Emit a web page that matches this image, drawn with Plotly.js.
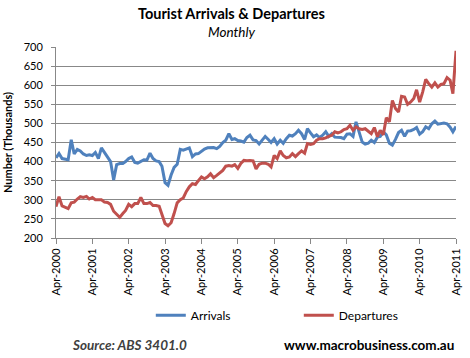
<!DOCTYPE html>
<html>
<head>
<meta charset="utf-8">
<script src="https://cdn.plot.ly/plotly-3.0.1.min.js"></script>
<style>html,body{margin:0;padding:0;background:#fff;}#chart{width:470px;height:358px;}</style>
</head>
<body>
<div id="chart"></div>
<script>
// Monthly series, Apr-2000 to Apr-2011 (thousands)
var startYear = 2000, startMonth = 4;
var arrivals = [
410,421,408,407,405,457,420,432,428,420,416,418,
416,424,408,436,424,414,400,352,392,395,395,400,
408,412,398,396,400,405,404,422,408,402,400,388,
345,338,365,385,393,432,430,434,436,413,420,421,
428,433,436,437,437,434,440,450,456,473,458,460,
455,454,451,463,469,457,455,446,456,466,458,450,
460,446,456,448,460,469,467,473,482,473,458,486,
475,465,470,463,469,478,466,473,464,463,463,460,
472,473,466,504,480,451,446,448,456,450,464,466,
478,470,448,443,458,476,482,466,480,481,484,489,
472,478,491,486,499,506,498,500,501,499,490,478,
492];
var departures = [
282,308,284,281,277,292,294,302,308,306,309,302,
306,300,300,300,294,293,288,270,262,254,264,272,
288,282,290,290,306,290,290,293,285,285,283,262,
238,232,240,264,292,300,305,322,334,342,340,350,
360,355,360,368,358,364,370,377,388,390,388,392,
382,395,403,402,403,402,381,393,396,396,393,386,
416,408,428,416,410,412,421,413,421,428,422,447,
445,447,456,460,460,462,466,469,478,475,478,484,
486,495,482,491,486,484,486,478,473,489,465,482,
470,515,504,560,539,530,571,569,550,556,565,588,
556,582,615,604,595,606,595,602,604,620,613,578,
690];
var seriesNames = ["Arrivals", "Departures"];
var chartTitle = "Tourist Arrivals & Departures";
var chartSubtitle = "Monthly";
var yTitle = "Number (Thousands)";
var sourceText = "Source: ABS 3401.0";
var siteText = "www.macrobusiness.com.au";

function monthDates(n) {
  var out = [];
  for (var i = 0; i < n; i++) {
    var m0 = startMonth - 1 + i;
    var y = startYear + Math.floor(m0 / 12);
    var m = (m0 % 12) + 1;
    out.push(y + "-" + (m < 10 ? "0" + m : m) + "-01");
  }
  return out;
}
var dates = monthDates(arrivals.length);

var FONT = "Lato, 'Liberation Sans', sans-serif";
var grid = "#888888";

var traces = [
  {x: dates, y: arrivals, name: seriesNames[0], type: "scatter", mode: "lines",
   line: {color: "#4F81BD", width: 3}},
  {x: dates, y: departures, name: seriesNames[1], type: "scatter", mode: "lines",
   line: {color: "#C0504D", width: 3}}
];

var layout = {
  width: 470, height: 358,
  margin: {l: 55.5, r: 14, t: 47, b: 120, pad: 0},
  paper_bgcolor: "#fff", plot_bgcolor: "#fff",
  font: {family: FONT, size: 11, color: "#000"},
  showlegend: true,
  legend: {orientation: "h", x: 0.607, xanchor: "center", y: -0.405, yanchor: "middle",
           font: {size: 12, color: "#000"}, itemwidth: 30, entrywidth: 103,
           entrywidthmode: "pixels", itemclick: false},
  xaxis: {type: "date", range: [dates[0], dates[dates.length - 1]],
          tick0: dates[0], dtick: "M12", tickformat: "%b-%Y", tickangle: -90,
          ticks: "outside", ticklen: 5, tickcolor: grid, showline: true, linecolor: grid,
          showgrid: false, zeroline: false, tickfont: {size: 11}},
  yaxis: {range: [200, 700], dtick: 50, tick0: 200, ticks: "outside", ticklen: 4,
          tickcolor: grid, showline: true, linecolor: grid, gridcolor: grid,
          zeroline: false, tickfont: {size: 11}, ticklabelstandoff: 6,
          title: {text: "<b>" + yTitle + "</b>", font: {size: 11}, standoff: 8}},
  annotations: [
    {text: "<b>" + chartTitle + "</b>", xref: "paper", yref: "paper", x: 0.438, y: 1,
     yanchor: "middle", yshift: 34, showarrow: false, font: {size: 14.5, color: "#000"}},
    {text: "<i>" + chartSubtitle + "</i>", xref: "paper", yref: "paper", x: 0.438, y: 1,
     yanchor: "middle", yshift: 15, showarrow: false, font: {size: 13.5, color: "#000"}},
    {text: "<b><i>" + sourceText + "</i></b>", xref: "paper", yref: "paper",
     x: 0.183, xanchor: "center", y: -0.56, yanchor: "middle", showarrow: false,
     font: {size: 13.5, color: "#404040"}},
    {text: "<b>" + siteText + "</b>", xref: "paper", yref: "paper",
     x: 1.0, xanchor: "right", y: -0.56, yanchor: "middle", showarrow: false,
     font: {size: 13.5, color: "#000"}}
  ]
};

Plotly.newPlot("chart", traces, layout, {displayModeBar: false, staticPlot: true});
</script>
</body>
</html>
